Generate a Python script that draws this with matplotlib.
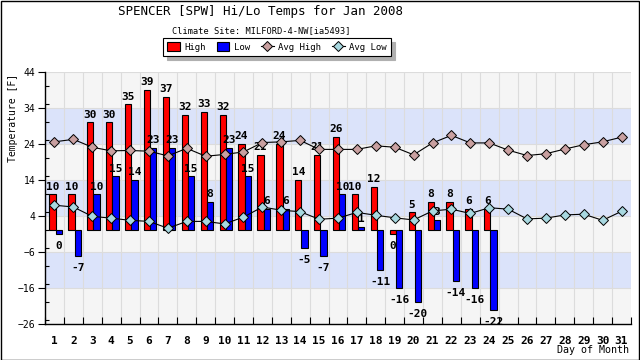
import numpy as np
import matplotlib
matplotlib.use("Agg")
import matplotlib.pyplot as plt
from matplotlib.patches import Patch, Rectangle
from matplotlib.lines import Line2D
from matplotlib.ticker import MultipleLocator

days = list(range(1, 32))
obs_days = list(range(1, 25))
high = [10, 10, 30, 30, 35, 39, 37, 32, 33, 32, 24, 21, 24, 14, 21, 26, 10, 12, 0, 5, 8, 8, 6, 6]
low = [0, -7, 10, 15, 14, 23, 23, 15, 8, 23, 15, 6, 6, -5, -7, 10, 1, -11, -16, -20, 3, -14, -16, -22]
avg_high = [24.6, 25.3, 23.1, 22.1, 22.2, 22.0, 20.7, 22.8, 20.6, 21.1, 21.8, 24.4, 24.6, 25.0, 22.5, 22.5,
            22.5, 23.5, 23.1, 21.0, 24.3, 26.4, 24.3, 24.3, 22.3, 20.8, 21.3, 22.6, 23.8, 24.6, 25.9]
avg_low = [7.0, 6.5, 3.9, 3.4, 2.8, 2.5, 0.6, 2.5, 2.5, 1.8, 3.7, 6.5, 5.6, 5.2, 3.1, 3.4, 5.0, 4.2, 3.5,
           2.9, 5.4, 5.9, 4.7, 6.3, 5.9, 3.2, 3.4, 4.3, 4.5, 2.8, 5.3]

MONO = "DejaVu Sans Mono"
fig = plt.figure(figsize=(6.4, 3.6), dpi=100)
fig.patch.set_facecolor("white")
ax = fig.add_axes([45 / 640, 1 - 324 / 360, 586 / 640, 252 / 360])

ymin, ymax = -26, 44
ax.set_ylim(ymin, ymax)
ax.set_xlim(0.5, 31.5)

# alternating bands
edges = np.arange(ymin, ymax + 1, 10)
for i in range(len(edges) - 1):
    col = "#f5f5f5" if i % 2 == 0 else "#dbe3fa"
    ax.axhspan(edges[i], edges[i + 1], color=col, zorder=0, lw=0)
for e in edges:
    ax.axhline(e, color="#dcdcdc", lw=0.8, zorder=0.5)
for k in range(0, 32):
    ax.axvline(k + 0.5, color="#dcdcdc", lw=0.8, zorder=0.5)

hx = np.array(obs_days) - 0.1
lx = np.array(obs_days) + 0.23
hv = np.array(high, dtype=float)
lv = np.array(low, dtype=float)
hdraw = np.where(hv == 0, -1.1, hv)
ldraw = np.where(lv == 0, -1.1, lv)
w = 0.33
ax.bar(hx, hdraw, width=w, color="#ff0000", edgecolor="black", linewidth=0.8, zorder=2)
ax.bar(lx, ldraw, width=w, color="#0000ff", edgecolor="black", linewidth=0.8, zorder=2)

for xs, vals, draws in ((hx, hv, hdraw), (lx, lv, ldraw)):
    for x, v, d in zip(xs, vals, draws):
        if v > 0:
            ax.annotate(f"{int(v)}", (x, d), xytext=(0, 2), textcoords="offset points",
                        ha="center", va="bottom", fontsize=8, fontweight="bold", family=MONO, zorder=3)
        else:
            ax.annotate(f"{int(v)}", (x, d), xytext=(0, -5), textcoords="offset points",
                        ha="center", va="top", fontsize=8, fontweight="bold", family=MONO, zorder=3)

ax.plot(days, avg_high, color="black", lw=0.8, marker="D", ms=5, mfc="#c9a0a0", mec="black", mew=0.7, zorder=4)
ax.plot(days, avg_low, color="black", lw=0.8, marker="D", ms=5, mfc="#a8d8e0", mec="black", mew=0.7, zorder=4)

# spines and ticks
for s in ("top", "right"):
    ax.spines[s].set_visible(False)
ax.spines["left"].set_linewidth(1)
ax.spines["bottom"].set_linewidth(1)
ax.set_yticks(edges)
ax.yaxis.set_minor_locator(MultipleLocator(5))
ax.tick_params(axis="y", which="major", direction="out", length=5, width=0.8, labelsize=7, pad=2)
ax.tick_params(axis="y", which="minor", direction="in", length=3, width=0.8)
for t in ax.get_yticklabels():
    t.set_family(MONO)
ax.set_xticks(np.arange(0.5, 32, 1), minor=True)
ax.set_xticks(days)
ax.set_xticklabels([str(d) for d in days], family=MONO, fontweight="bold", fontsize=8)
ax.tick_params(axis="x", which="major", length=0, pad=9)
ax.tick_params(axis="x", which="minor", direction="in", length=5, width=0.8)

fig.text(13 / 640, 1 - 118 / 360, "Temperature [F]", rotation=90, ha="center", va="center",
         family=MONO, fontsize=7)
fig.text(629 / 640, 1 - 350 / 360, "Day of Month", ha="right", va="center", family=MONO, fontsize=7.2)
fig.text(261 / 640, 1 - 12 / 360, "SPENCER [SPW] Hi/Lo Temps for Jan 2008", ha="center", va="center",
         family=MONO, fontsize=9)
fig.text(261 / 640, 1 - 31 / 360, "Climate Site: MILFORD-4-NW[ia5493]", ha="center", va="center",
         family=MONO, fontsize=6.2)

handles = [Patch(fc="#ff0000", ec="black", lw=0.8), Patch(fc="#0000ff", ec="black", lw=0.8),
           Line2D([], [], color="black", lw=0.8, marker="D", ms=5, mfc="#c9a0a0", mec="black", mew=0.7),
           Line2D([], [], color="black", lw=0.8, marker="D", ms=5, mfc="#a8d8e0", mec="black", mew=0.7)]
leg = fig.legend(handles, ["High", "Low", "Avg High", "Avg Low"], loc="center",
                 bbox_to_anchor=(277 / 640, 1 - 47 / 360), ncol=4, prop={"family": MONO, "size": 6.5},
                 frameon=True, fancybox=False, edgecolor="black", framealpha=1,
                 shadow={"color": "#b0b0b0", "alpha": 1, "ox": 3, "oy": -3},
                 handlelength=1.4, handleheight=1.2, columnspacing=1.2, handletextpad=0.5,
                 borderpad=0.45)
leg.get_frame().set_linewidth(0.8)

fig.add_artist(Rectangle((0.5 / 640, 0.5 / 360), 638.5 / 640, 358.5 / 360, transform=fig.transFigure,
                         fill=False, ec="black", lw=1))

fig.savefig("out.png", dpi=100)
